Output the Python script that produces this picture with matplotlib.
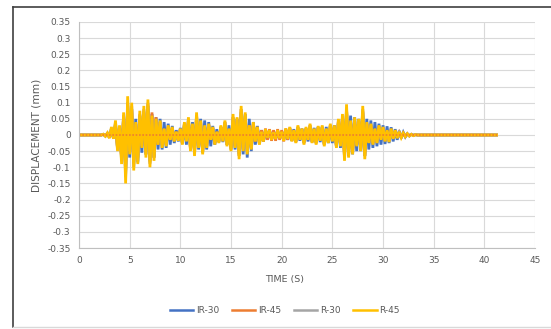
import numpy as np
import matplotlib
matplotlib.use("Agg")
import matplotlib.pyplot as plt
from matplotlib.lines import Line2D
from matplotlib.ticker import FuncFormatter

t0 = 2.4
dt = 0.2
t_end = 41.2

r45 = [0.002, -0.004, 0.006, -0.01, 0.025, -0.012, 0.045, -0.05, 0.03, -0.09,
       0.07, -0.15, 0.12, -0.06, 0.10, -0.11, 0.04, -0.09, 0.075, -0.04,
       0.09, -0.07, 0.11, -0.10, 0.06, -0.08, 0.05, -0.03, 0.045, -0.04,
       0.02, -0.035, 0.03, -0.015, 0.025, -0.02, 0.01, -0.018, 0.02, -0.03,
       0.04, -0.02, 0.055, -0.05, 0.035, -0.065, 0.07, -0.04, 0.045, -0.06,
       0.03, -0.04, 0.035, -0.015, 0.025, -0.03, 0.01, -0.025, 0.03, -0.02,
       0.045, -0.035, 0.02, -0.05, 0.065, -0.04, 0.055, -0.075, 0.09, -0.05,
       0.07, -0.06, 0.03, -0.045, 0.04, -0.02, 0.025, -0.03, 0.01, -0.02,
       0.018, -0.008, 0.015, -0.015, 0.008, -0.012, 0.015, -0.01, 0.01, -0.018,
       0.02, -0.012, 0.025, -0.02, 0.015, -0.025, 0.03, -0.015, 0.02, -0.03,
       0.025, -0.015, 0.035, -0.025, 0.02, -0.03, 0.028, -0.018, 0.03, -0.035,
       0.02, -0.025, 0.035, -0.02, 0.03, -0.04, 0.05, -0.035, 0.065, -0.08,
       0.095, -0.07, 0.045, -0.06, 0.055, -0.035, 0.05, -0.05, 0.09, -0.075,
       0.04, -0.025, 0.035, -0.03, 0.02, -0.025, 0.03, -0.015, 0.025, -0.02,
       0.015, -0.022, 0.02, -0.012, 0.015, -0.01, 0.01, -0.008, 0.006, -0.005,
       0.004, -0.003, 0.002, -0.002, 0.001, 0.0]

ir30 = [0.002, -0.003, 0.005, -0.008, 0.02, -0.01, 0.035, -0.04, 0.025, -0.07,
        0.06, -0.12, 0.1, -0.07, 0.08, -0.09, 0.05, -0.085, 0.06, -0.055,
        0.07, -0.06, 0.09, -0.08, 0.065, -0.07, 0.055, -0.045, 0.05, -0.045,
        0.04, -0.04, 0.035, -0.03, 0.028, -0.025, 0.015, -0.02, 0.022, -0.025,
        0.03, -0.03, 0.045, -0.04, 0.04, -0.05, 0.055, -0.045, 0.05, -0.055,
        0.045, -0.045, 0.04, -0.035, 0.028, -0.03, 0.018, -0.022, 0.025, -0.022,
        0.035, -0.03, 0.03, -0.04, 0.05, -0.045, 0.05, -0.06, 0.07, -0.06,
        0.065, -0.07, 0.05, -0.05, 0.04, -0.03, 0.028, -0.028, 0.015, -0.02,
        0.012, -0.01, 0.012, -0.01, 0.01, -0.01, 0.01, -0.01, 0.01, -0.012,
        0.015, -0.015, 0.02, -0.018, 0.018, -0.02, 0.022, -0.018, 0.02, -0.022,
        0.02, -0.02, 0.025, -0.022, 0.022, -0.025, 0.025, -0.022, 0.025, -0.028,
        0.025, -0.025, 0.028, -0.025, 0.03, -0.035, 0.04, -0.04, 0.055, -0.06,
        0.075, -0.065, 0.06, -0.06, 0.055, -0.05, 0.05, -0.05, 0.07, -0.065,
        0.05, -0.045, 0.045, -0.04, 0.04, -0.035, 0.035, -0.03, 0.03, -0.028,
        0.027, -0.025, 0.024, -0.02, 0.018, -0.015, 0.013, -0.01, 0.008, -0.006,
        0.004, -0.003, 0.002, -0.001, 0.001, 0.0]

ir45 = [0.002, -0.003, 0.005, -0.008, 0.015, -0.01, 0.03, -0.04, 0.025, -0.07,
        0.06, -0.11, 0.09, -0.05, 0.08, -0.08, 0.035, -0.07, 0.06, -0.035,
        0.075, -0.06, 0.095, -0.085, 0.07, -0.07, 0.055, -0.03, 0.04, -0.03,
        0.018, -0.03, 0.025, -0.015, 0.02, -0.018, 0.01, -0.015, 0.018, -0.025,
        0.035, -0.018, 0.045, -0.045, 0.03, -0.055, 0.06, -0.035, 0.04, -0.05,
        0.025, -0.035, 0.03, -0.015, 0.02, -0.025, 0.01, -0.02, 0.025, -0.018,
        0.04, -0.03, 0.018, -0.045, 0.055, -0.035, 0.05, -0.065, 0.08, -0.045,
        0.06, -0.05, 0.03, -0.04, 0.035, -0.02, 0.025, -0.025, 0.015, -0.02,
        0.02, -0.015, 0.018, -0.018, 0.015, -0.018, 0.018, -0.015, 0.015, -0.02,
        0.02, -0.015, 0.022, -0.018, 0.015, -0.022, 0.025, -0.015, 0.018, -0.025,
        0.02, -0.015, 0.03, -0.022, 0.018, -0.025, 0.024, -0.016, 0.025, -0.03,
        0.018, -0.022, 0.03, -0.018, 0.025, -0.035, 0.045, -0.03, 0.055, -0.07,
        0.08, -0.06, 0.04, -0.05, 0.045, -0.03, 0.045, -0.045, 0.075, -0.065,
        0.035, -0.022, 0.03, -0.025, 0.018, -0.022, 0.025, -0.013, 0.022, -0.018,
        0.013, -0.018, 0.016, -0.01, 0.012, -0.008, 0.008, -0.006, 0.005, -0.004,
        0.003, -0.002, 0.002, -0.001, 0.001, 0.0]

r30 = [0.002, -0.003, 0.005, -0.008, 0.02, -0.01, 0.04, -0.045, 0.025, -0.08,
       0.06, -0.13, 0.1, -0.05, 0.09, -0.1, 0.035, -0.08, 0.065, -0.035,
       0.08, -0.06, 0.1, -0.09, 0.05, -0.07, 0.045, -0.025, 0.04, -0.035,
       0.018, -0.03, 0.025, -0.012, 0.02, -0.018, 0.008, -0.015, 0.018, -0.025,
       0.035, -0.018, 0.05, -0.045, 0.03, -0.055, 0.06, -0.035, 0.04, -0.05,
       0.025, -0.035, 0.03, -0.012, 0.02, -0.025, 0.008, -0.02, 0.025, -0.018,
       0.04, -0.03, 0.018, -0.045, 0.055, -0.035, 0.05, -0.065, 0.08, -0.045,
       0.06, -0.05, 0.025, -0.04, 0.035, -0.018, 0.02, -0.025, 0.008, -0.018,
       0.015, -0.007, 0.012, -0.012, 0.007, -0.01, 0.012, -0.008, 0.008, -0.015,
       0.018, -0.01, 0.02, -0.018, 0.012, -0.02, 0.025, -0.012, 0.018, -0.025,
       0.02, -0.012, 0.03, -0.02, 0.018, -0.025, 0.024, -0.015, 0.025, -0.03,
       0.018, -0.02, 0.03, -0.018, 0.025, -0.035, 0.045, -0.03, 0.055, -0.07,
       0.08, -0.06, 0.04, -0.05, 0.045, -0.03, 0.045, -0.045, 0.08, -0.065,
       0.035, -0.022, 0.03, -0.025, 0.018, -0.022, 0.025, -0.012, 0.022, -0.018,
       0.012, -0.018, 0.016, -0.01, 0.012, -0.008, 0.008, -0.006, 0.005, -0.004,
       0.003, -0.002, 0.002, -0.001, 0.001, 0.0]

names = ["IR-30", "IR-45", "R-30", "R-45"]
colors = ["#4472C4", "#ED7D31", "#A5A5A5", "#FFC000"]
series = [ir30, ir45, r30, r45]


def full(vals):
    t = t0 + dt * np.arange(len(vals))
    tt = np.concatenate([[0.0, t0 - dt], t, [t_end]])
    vv = np.concatenate([[0.0, 0.0], vals, [0.0]])
    return tt, vv


txt = "#595959"
fig = plt.figure(figsize=(5.51, 3.29), dpi=100)
ax = fig.add_axes([0.1434, 0.2462, 0.8276, 0.6870])

for name, c, vals in zip(names, colors, series):
    tt, vv = full(vals)
    ax.plot(tt, vv, color=c, lw=2.0, solid_joinstyle="miter")

# dotted zero line along the record
tt, vv = full(r45)
ax.plot(tt, np.zeros_like(tt), color="#ED7D31", lw=1.2, ls=(0, (1, 1)))

ax.set_xlim(0, 45)
ax.set_ylim(-0.35, 0.35)
ax.set_xticks(np.arange(0, 46, 5))
ax.set_yticks(np.arange(-0.35, 0.351, 0.05))
ax.yaxis.set_major_formatter(FuncFormatter(lambda v, p: "%g" % round(v, 2) if abs(v) > 1e-9 else "0"))
ax.grid(True, color="#d9d9d9", lw=0.8)
ax.set_axisbelow(True)
for s in ["top", "right"]:
    ax.spines[s].set_visible(False)
ax.spines["left"].set_color("#bfbfbf")
ax.spines["bottom"].set_color("#bfbfbf")
ax.tick_params(length=0, labelsize=6.5, labelcolor=txt, pad=6)

fig.text(0.517, 0.149, "TIME (S)", ha="center", va="center", fontsize=6.8, color=txt)
fig.text(0.067, 0.59, "DISPLACEMENT (mm)", ha="center", va="center", rotation=90,
         fontsize=7.6, color=txt)

handles = [Line2D([], [], color=c, lw=1.8) for c in colors]
fig.legend(handles, names, loc="center", bbox_to_anchor=(0.517, 0.055), ncol=4,
           frameon=False, fontsize=6.5, labelcolor=txt, handlelength=2.6,
           handletextpad=0.3, columnspacing=1.4)

# chart frame
fig.add_artist(Line2D([13 / 551, 13 / 551], [2 / 329, 322 / 329], color="#404040", lw=1.2))
fig.add_artist(Line2D([13 / 551, 1.0], [322 / 329, 322 / 329], color="#404040", lw=1.2))
fig.add_artist(Line2D([13 / 551, 1.0], [2 / 329, 2 / 329], color="#d9d9d9", lw=1.0))

fig.savefig("out.png", dpi=100)
